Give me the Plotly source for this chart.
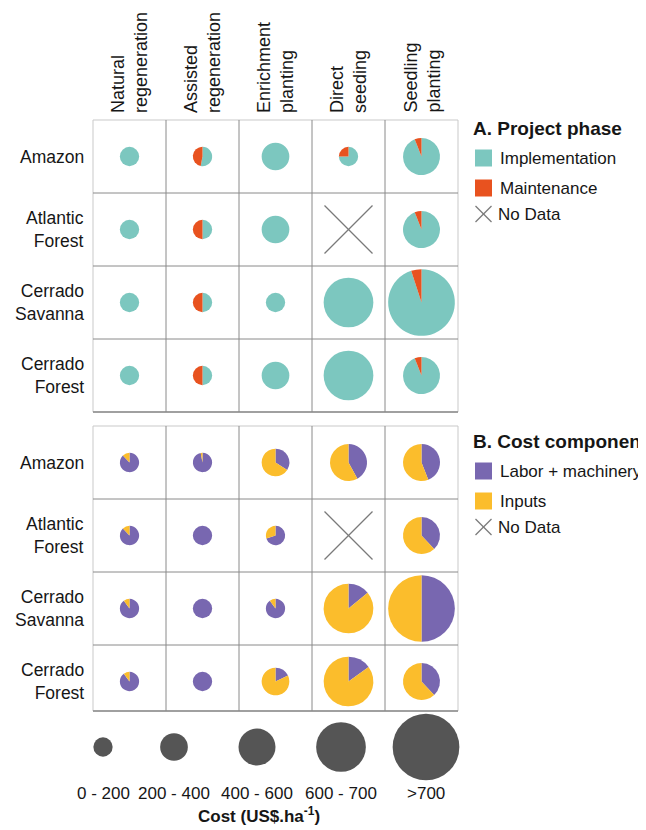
"""Restoration cost grid: pie per biome x method, sized by cost class."""

import plotly.graph_objects as go

methods = [
    "Natural<br>regeneration",
    "Assisted<br>regeneration",
    "Enrichment<br>planting",
    "Direct<br>seeding",
    "Seedling<br>planting",
]
biomes = ["Amazon", "Atlantic<br>Forest", "Cerrado<br>Savanna", "Cerrado<br>Forest"]
cost_classes = ["0 - 200", "200 - 400", "400 - 600", "600 - 700", ">700"]

# cost class index per cell (None = no data)
phase_cost = [
    [0, 0, 1, 0, 2],
    [0, 0, 1, None, 2],
    [0, 0, 0, 3, 4],
    [0, 0, 1, 3, 2],
]
maintenance_pct = [
    [0, 47, 0, 25, 6],
    [0, 50, 0, None, 6],
    [0, 50, 0, 0, 5],
    [0, 50, 0, 0, 6],
]
component_cost = [
    [0, 0, 1, 2, 2],
    [0, 0, 0, None, 2],
    [0, 0, 0, 3, 4],
    [0, 0, 1, 3, 2],
]
labor_pct = [
    [88, 97, 34, 42, 44],
    [88, 100, 70, None, 38],
    [90, 100, 90, 14, 50],
    [90, 100, 18, 15, 38],
]

# page is shown with the browser's 8px body margin, so the figure is
# 8px smaller and the axes start at 8: axis units == page pixels
PAGE_W, PAGE_H = 646, 830
OFF = 8
W, H = PAGE_W - OFF, PAGE_H - OFF
FONT = "Liberation Sans, Arial, Helvetica, sans-serif"
TEXT = "#161616"
GRID_X0 = 93
CELL = 73
PANEL_A = (120, 412)
PANEL_B = (426, 711)
CLASS_DIAM = [19.3, 27.7, 37.0, 49.7, 66.7]
SIZE_LEGEND_X = [103, 174, 257, 341, 426]
SIZE_LEGEND_Y = 747

TEAL, ORANGE = "#7cc7bf", "#e8521f"
PURPLE, YELLOW = "#7867b0", "#fbbd2c"
CIRCLE_GREY = "#555555"

fig = go.Figure()
shapes = []
annotations = []


def text(x, y, s, size=17.5, xanchor="center", yanchor="middle", align="center", **kw):
    annotations.append(dict(
        x=x, y=y, xref="x", yref="y", text=s, showarrow=False,
        xanchor=xanchor, yanchor=yanchor, align=align,
        font=dict(family=FONT, size=size, color=TEXT), **kw,
    ))


def line(x0, y0, x1, y1, color, width=1):
    shapes.append(dict(type="line", xref="x", yref="y", x0=x0, y0=y0, x1=x1, y1=y1,
                       line=dict(color=color, width=width)))


def no_data(cx, cy, half):
    line(cx - half, cy - half, cx + half, cy + half, "#7a7a7a", 1.2)
    line(cx - half, cy + half, cx + half, cy - half, "#7a7a7a", 1.2)


def add_panel(top, bottom, cost, shares, labels, colors, first_share):
    x1 = GRID_X0 + CELL * len(methods)
    for r, biome in enumerate(biomes):
        cy = top + CELL * (r + 0.5)
        text(86, cy, biome, xanchor="right", align="right")
        for c in range(len(methods)):
            cx = GRID_X0 + CELL * (c + 0.5)
            k = cost[r][c]
            if k is None:
                no_data(cx, cy, 24)
                continue
            rad = CLASS_DIAM[k] / 2
            share = shares[r][c]
            values = [share, 100 - share] if first_share else [100 - share, share]
            fig.add_trace(go.Pie(
                labels=labels, values=values, sort=False, direction="clockwise",
                rotation=0, textinfo="none", showlegend=False,
                marker=dict(colors=colors, line=dict(width=0)),
                domain=dict(
                    x=[(cx - rad - OFF) / W, (cx + rad - OFF) / W],
                    y=[1 - (cy + rad - OFF) / H, 1 - (cy - rad - OFF) / H],
                ),
                hovertemplate="%{label}: %{value}%<extra></extra>",
            ))
    # grid
    shapes.append(dict(type="rect", xref="x", yref="y", x0=GRID_X0, x1=x1, y0=top, y1=bottom,
                       line=dict(color="#c9c9c9", width=1), layer="below"))
    for c in range(1, len(methods)):
        x = GRID_X0 + CELL * c
        line(x, top, x, bottom, "#8a8a8a")
    for r in range(1, len(biomes)):
        y = top + CELL * r
        line(GRID_X0, y, x1, y, "#8a8a8a")
    line(GRID_X0, bottom, x1, bottom, "#8a8a8a", 1.6)


def add_legend(y_title, title, items):
    text(471, y_title, f"<b>{title}</b>", size=19, xanchor="left")
    for i, (label, color) in enumerate(items):
        y = y_title + 30 + 30 * i if i < 2 else y_title + 86
        if color is None:
            no_data(483.5, y, 8)
        else:
            shapes.append(dict(type="rect", xref="x", yref="y", x0=475, x1=492,
                               y0=y - 8.5, y1=y + 8.5, fillcolor=color, line=dict(width=0)))
        text(498 if color is not None else 496, y, label, size=17, xanchor="left")


# column headers
for c, m in enumerate(methods):
    cx = GRID_X0 + CELL * (c + 0.5)
    text(cx, 115, m, size=18, textangle=-90, yanchor="bottom", align="left")

add_panel(*PANEL_A, phase_cost, maintenance_pct, ["Implementation", "Maintenance"],
          [TEAL, ORANGE], first_share=False)
add_panel(*PANEL_B, component_cost, labor_pct, ["Labor + machinery", "Inputs"],
          [PURPLE, YELLOW], first_share=True)

add_legend(128, "A. Project phase",
           [("Implementation", TEAL), ("Maintenance", ORANGE), ("No Data", None)])
add_legend(441, "B. Cost component",
           [("Labor + machinery", PURPLE), ("Inputs", YELLOW), ("No Data", None)])

# cost class size key
fig.add_trace(go.Scatter(
    x=SIZE_LEGEND_X, y=[SIZE_LEGEND_Y] * len(cost_classes), mode="markers",
    marker=dict(size=CLASS_DIAM, color=CIRCLE_GREY, opacity=1, line=dict(width=0)),
    text=cost_classes, hovertemplate="%{text}<extra></extra>", showlegend=False,
))
for x, label in zip(SIZE_LEGEND_X, cost_classes):
    text(x, 793, label, size=17)
text(259, 815, "<b>Cost (US$.ha<sup>-1</sup>)</b>", size=17)

fig.update_layout(
    width=W, height=H,
    margin=dict(l=0, r=0, t=0, b=0),
    paper_bgcolor="white", plot_bgcolor="white",
    xaxis=dict(range=[OFF, PAGE_W], visible=False, fixedrange=True),
    yaxis=dict(range=[PAGE_H, OFF], visible=False, fixedrange=True),
    shapes=shapes, annotations=annotations,
    showlegend=False,
)

fig.write_html("out.html")
